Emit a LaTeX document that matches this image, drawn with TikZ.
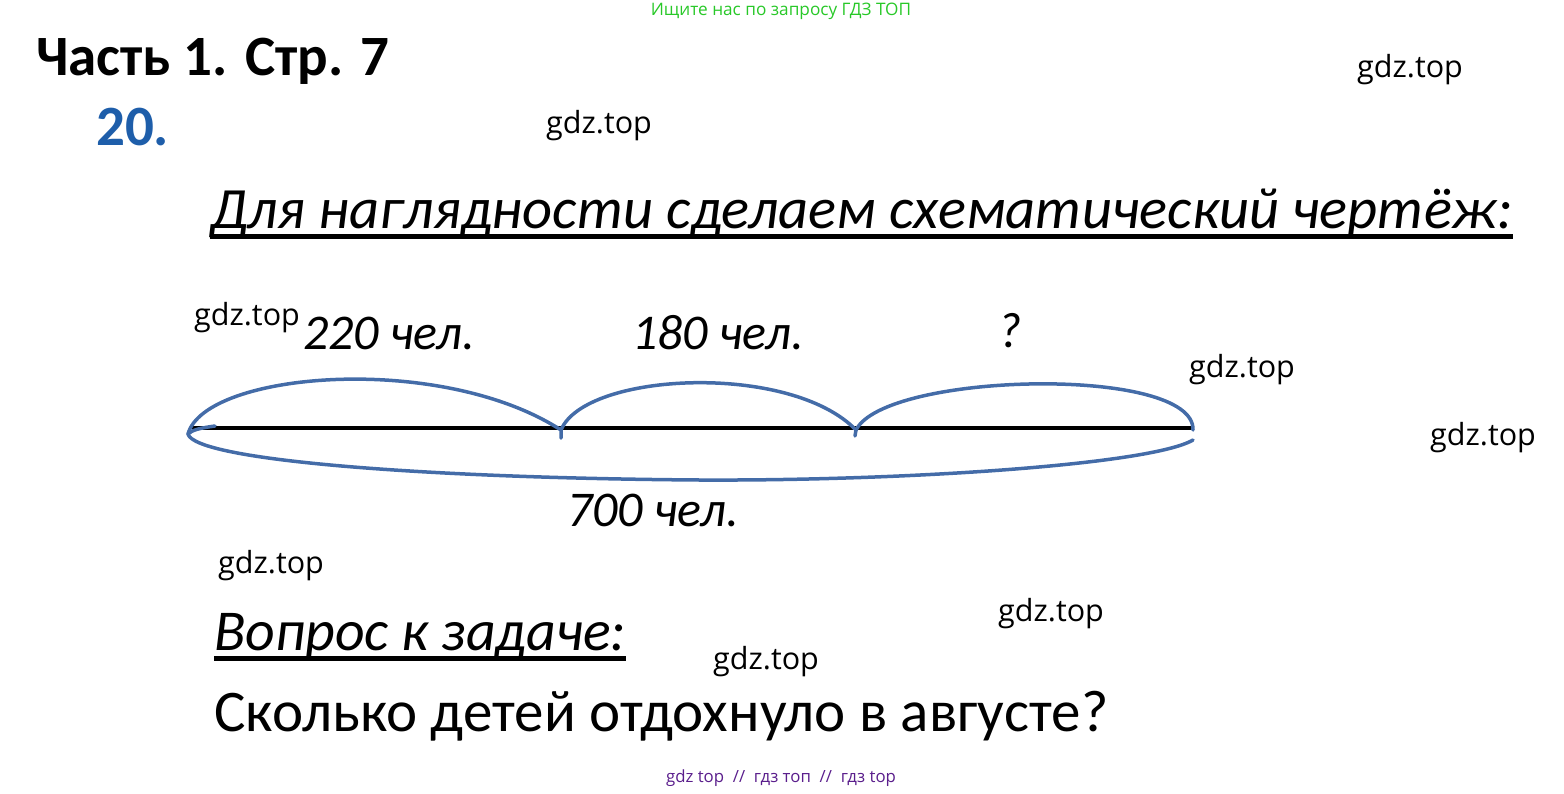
\documentclass[tikz,border=0pt]{standalone}
\usepackage{fontspec}
\setmainfont{Carlito}
\newfontfamily\wmfont{Open Sans}
\definecolor{numblue}{RGB}{30,94,170}
\definecolor{arcblue}{RGB}{68,108,168}
\definecolor{topgreen}{RGB}{40,200,40}
\definecolor{botpurple}{RGB}{90,30,140}

\begin{document}
\begin{tikzpicture}[x=1pt,y=-1pt,
  wmark/.style={anchor=west,inner sep=0pt,font=\wmfont\fontsize{30.5}{30.5}\selectfont},
  lbl/.style={anchor=base,inner sep=0pt,font=\itshape\fontsize{50}{50}\selectfont},
  arcline/.style={arcblue,line width=3.5pt,line cap=round}]

\useasboundingbox (0,0) rectangle (1564,793);

\node [anchor=center,inner sep=0pt,text=topgreen,font=\wmfont\fontsize{17.2}{17.2}\selectfont] (ad) at (781,11) {Ищите нас по запросу ГДЗ ТОП};
\node [anchor=base west,inner sep=0pt,font=\bfseries\fontsize{57}{57}\selectfont] (part) at (36,75) {Часть 1. Стр. 7};
\node [anchor=base west,inner sep=0pt,text=numblue,font=\bfseries\fontsize{57}{57}\selectfont] (num) at (96,145) {20.};

\node [anchor=base west,inner sep=0pt,font=\itshape\fontsize{58.5}{58.5}\selectfont] (head) at (210,228) {Для наглядности сделаем схематический чертёж:};
\draw [line width=5pt] ([yshift=-8pt]head.base west) -- ([yshift=-8pt]head.base east);

\coordinate (s) at (188,434);
\coordinate (c1) at (561,430);
\coordinate (c2) at (856,430);
\coordinate (e) at (1193,430);

\draw [line width=3.5pt] (192,428) -- (1193,428);

\draw [arcline] (215,426) .. controls (200,428) and (192,430) .. (s);
\draw [arcline] (s) .. controls (205,372) and (440,352) .. (c1) -- (561,438);
\draw [arcline] (c1) .. controls (585,372) and (790,362) .. (c2) -- (855,436);
\draw [arcline] (c2) .. controls (885,372) and (1195,365) .. (e);
\draw [arcline] (s) .. controls (195,460) and (420,478) .. (700,480) .. controls (900,481) and (1150,465) .. (1193,440);

\node [lbl] (first) at (389,349) {220 чел.};
\node [lbl] (second) at (718,349) {180 чел.};
\node [lbl] (third) at (1010,347) {?};
\node [lbl] (total) at (653,526) {700 чел.};

\node [anchor=base west,inner sep=0pt,font=\itshape\fontsize{57.8}{57.8}\selectfont] (ask) at (214,650) {Вопрос к задаче:};
\draw [line width=5pt] ([yshift=-8pt]ask.base west) -- ([yshift=-8pt]ask.base east);
\node [anchor=base west,inner sep=0pt,font=\fontsize{59}{59}\selectfont] (question) at (214,731) {Сколько детей отдохнуло в августе?};

\node [wmark] (w1) at (1357,70) {gdz.top};
\node [wmark] (w2) at (546,126) {gdz.top};
\node [wmark] (w3) at (194,318) {gdz.top};
\node [wmark] (w4) at (1189,370) {gdz.top};
\node [wmark] (w5) at (1430,438) {gdz.top};
\node [wmark] (w6) at (218,566) {gdz.top};
\node [wmark] (w7) at (998,614) {gdz.top};
\node [wmark] (w8) at (713,662) {gdz.top};

\node [anchor=center,inner sep=0pt,text=botpurple,font=\wmfont\fontsize{16.8}{16.8}\selectfont] (foot) at (781,778) {gdz top \ // \ гдз топ \ // \ гдз top};

\end{tikzpicture}
\end{document}
